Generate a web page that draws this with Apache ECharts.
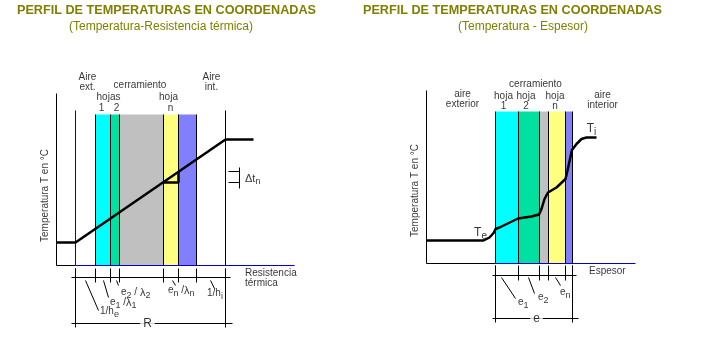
<!DOCTYPE html>
<html>
<head>
<meta charset="utf-8">
<title>Perfil de temperaturas</title>
<script src="https://cdn.jsdelivr.net/npm/echarts@6.0.0/dist/echarts.min.js"></script>
<style>
html, body { margin: 0; padding: 0; background: #fff; }
#main { width: 709px; height: 352px; }
</style>
</head>
<body>
<div id="main"></div>
<script>
var myChart = echarts.init(document.getElementById('main'));

// ---- diagrama 1: temperatura - resistencia termica ----
var resBounds = [19, 39, 54, 63, 107, 122, 140, 169];   // limites en el eje de resistencias
var resLayers = [[39, 54], [54, 63], [63, 107], [107, 122], [122, 140]];
var resTemp = [[0, 23], [19, 23], [169, 126], [197, 126]];
var resDelta = [[107, 83], [122, 83], [122, 94]];
var resAirTop = 155, resLayerTop = 151, resAxisTop = 172, resAxisEnd = 238;

// ---- diagrama 2: temperatura - espesor ----
var espBounds = [69, 92, 113, 122, 139, 146];
var espLayers = [[69, 92], [92, 113], [113, 122], [122, 139], [139, 146]];
var espTemp = [[0, 23], [57, 23], [63, 26], [67.5, 31], [69, 34.5], [73, 36], [91.5, 45], [105, 47],
    [112.5, 49], [115, 54.5], [118, 64.5], [121.5, 71], [130, 76], [139, 84.5], [141, 93],
    [143.5, 104.5], [145.5, 113.5], [150, 119.5], [155, 124.5], [160, 126], [170, 126]];
var espLayerTop = 152, espAxisTop = 173, espAxisEnd = 209;

var layerColors = ['#00FFFF', '#00E0A0', '#C0C0C0', '#FFFF80', '#8080FF'];
var blue = '#0000C8';
var olive = '#808000';
var font = '"Liberation Sans", Arial, sans-serif';

function segs(gi, list, color, width) {
    return {
        type: 'lines', coordinateSystem: 'cartesian2d', xAxisIndex: gi, yAxisIndex: gi,
        polyline: true, silent: true, z: 4,
        lineStyle: { color: color, width: width || 1, opacity: 1 },
        data: list.map(function (c) { return { coords: c }; })
    };
}
function path(gi, pts, color, width) {
    return {
        type: 'line', xAxisIndex: gi, yAxisIndex: gi, data: pts, symbol: 'none', silent: true, z: 5,
        lineStyle: { color: color, width: width }
    };
}
function areas(gi, layers, top) {
    return {
        type: 'line', xAxisIndex: gi, yAxisIndex: gi, data: [], silent: true, z: 1,
        markArea: {
            silent: true,
            data: layers.map(function (l, i) {
                return [{ xAxis: l[0], yAxis: 0, itemStyle: { color: layerColors[i], opacity: 1 } },
                        { xAxis: l[1], yAxis: top }];
            })
        }
    };
}
var rich = {
    s: { fontSize: 9, fontFamily: font, color: '#000', padding: [7, 0, 0, 0] },
    g: { fontSize: 11, fontFamily: font, color: '#000' },
    big: { fontSize: 12, fontFamily: font, color: '#000' },
    bs: { fontSize: 10, fontFamily: font, color: '#000', padding: [8, 0, 0, 0] }
};
function texts(gi, items) {
    return {
        type: 'scatter', xAxisIndex: gi, yAxisIndex: gi, symbolSize: 1, silent: true, z: 6,
        itemStyle: { color: 'transparent' },
        data: items.map(function (t) {
            return {
                value: [t[0], t[1]],
                label: {
                    show: true, formatter: t[2], position: t[3] ? 'right' : 'inside', distance: 0,
                    rotate: t[4] || 0, color: '#000', fontSize: 10, fontFamily: font, lineHeight: 10,
                    align: t[3] ? 'left' : 'center', rich: rich,
                    backgroundColor: t[5] ? '#fff' : 'transparent', padding: t[5] ? [0, 3] : 0
                }
            };
        })
    };
}
function vlines(xs, y0, y1) {
    return xs.map(function (x) { return [[x, y0], [x, y1]]; });
}

var series = [
    // diagrama 1
    areas(0, resLayers, resLayerTop),
    segs(0, [[[0, 0], [0, resAxisTop]], [[0, 0], [resBounds[0], 0]]], '#000'),
    segs(0, [[[resBounds[0], 0], [resAxisEnd, 0]], [[resBounds[0], 0], [resBounds[0], resAirTop]]], blue),
    segs(0, vlines(resBounds.slice(1, 7), 0, resLayerTop).concat([[[169, 0], [169, resAirTop]]]), '#000'),
    segs(0, vlines(resBounds, -3, -17).concat([
        [[15, -12], [174, -12]], [[19, -3], [19, -62]], [[169, -3], [169, -62]], [[15, -58], [176, -58]],
        [[29, -15], [42, -45]], [[47, -15], [52, -32]], [[60, -15], [62, -20]], [[116, -15], [119, -20]],
        [[154, -15], [158, -23]],
        [[183, 77], [183, 98]], [[172, 94], [183, 94]], [[172, 83], [183, 83]]
    ]), '#000'),
    path(0, resTemp, '#000', 2.5),
    path(0, resDelta, '#000', 2.5),
    texts(0, [
        [31, 183, 'Aire\next.'], [83.5, 180.5, 'cerramiento'], [155, 183, 'Aire\nint.'],
        [52, 168, 'hojas'], [45, 157, '1'], [60, 157, '2'], [112, 168, 'hoja'], [114, 157, 'n'],
        [-11, 70, 'Temperatura T en °C', false, 90],
        [188, 87, '{g|Δt}{s|n}', true],
        [188, -13, 'Resistencia\ntérmica', true],
        [91, -58, '{big|R}', false, 0, true],
        [43, -46, '1/h{s|e}', true], [53, -37, 'e{s|1} /{g|λ}{s|1}', true],
        [64, -27, 'e{s|2} / {g|λ}{s|2}', true], [111, -25, 'e{s|n} /{g|λ}{s|n}', true],
        [150, -28, '1/h{s|i}', true]
    ]),
    // diagrama 2
    areas(1, espLayers, espLayerTop),
    segs(1, [[[0, 0], [0, espAxisTop]], [[0, 0], [espBounds[0], 0]]], '#000'),
    segs(1, [[[espBounds[0], 0], [espAxisEnd, 0]], [[espBounds[0], 0], [espBounds[0], espLayerTop]]], blue),
    segs(1, vlines(espBounds.slice(1), 0, espLayerTop), '#000'),
    segs(1, vlines(espBounds, -2, -17).concat([
        [[66, -12], [150, -12]], [[69, -2], [69, -59]], [[146, -2], [146, -59]], [[66, -55], [152, -55]],
        [[75, -14], [89, -35]], [[102, -14], [108, -30]], [[129, -14], [134, -22]]
    ]), '#000'),
    path(1, espTemp, '#000', 2.5),
    texts(1, [
        [36, 164, 'aire\nexterior'], [109, 179, 'cerramiento'],
        [77, 162, 'hoja\n1'], [99.5, 162, 'hoja\n2'], [128.5, 162, 'hoja\nn'],
        [176, 163.5, 'aire\ninterior'],
        [-11, 73, 'Temperatura T en °C', false, 90],
        [54, 31, '{big|T}{bs|e}'], [165, 135, '{big|T}{bs|i}'],
        [162, -8, 'Espesor', true],
        [110, -55, '{big|e}', false, 0, true],
        [91, -39, 'e{s|1}', true], [111, -34, 'e{s|2}', true], [133, -29, 'e{s|n}', true]
    ])
];

var option = {
    backgroundColor: '#fff',
    animation: false,
    grid: [
        { left: 36.5, top: 65.5, width: 258, height: 270 },
        { left: 406.5, top: 63.5, width: 229, height: 269 }
    ],
    xAxis: [
        { type: 'value', gridIndex: 0, min: -20, max: 238, show: false },
        { type: 'value', gridIndex: 1, min: -20, max: 209, show: false }
    ],
    yAxis: [
        { type: 'value', gridIndex: 0, min: -70, max: 200, show: false },
        { type: 'value', gridIndex: 1, min: -69, max: 200, show: false }
    ],
    graphic: [
        { type: 'text', x: 17, y: 11, style: { text: 'PERFIL DE TEMPERATURAS EN COORDENADAS', fill: olive, font: 'bold 12.65px ' + font, verticalAlign: 'middle' } },
        { type: 'text', x: 161, y: 27, style: { text: '(Temperatura-Resistencia térmica)', fill: olive, font: '12px ' + font, align: 'center', verticalAlign: 'middle' } },
        { type: 'text', x: 363, y: 11, style: { text: 'PERFIL DE TEMPERATURAS EN COORDENADAS', fill: olive, font: 'bold 12.65px ' + font, verticalAlign: 'middle' } },
        { type: 'text', x: 523, y: 27, style: { text: '(Temperatura - Espesor)', fill: olive, font: '12px ' + font, align: 'center', verticalAlign: 'middle' } }
    ],
    series: series
};
myChart.setOption(option);

window.addEventListener('resize', function () {
    myChart.resize();
});
</script>
</body>
</html>
